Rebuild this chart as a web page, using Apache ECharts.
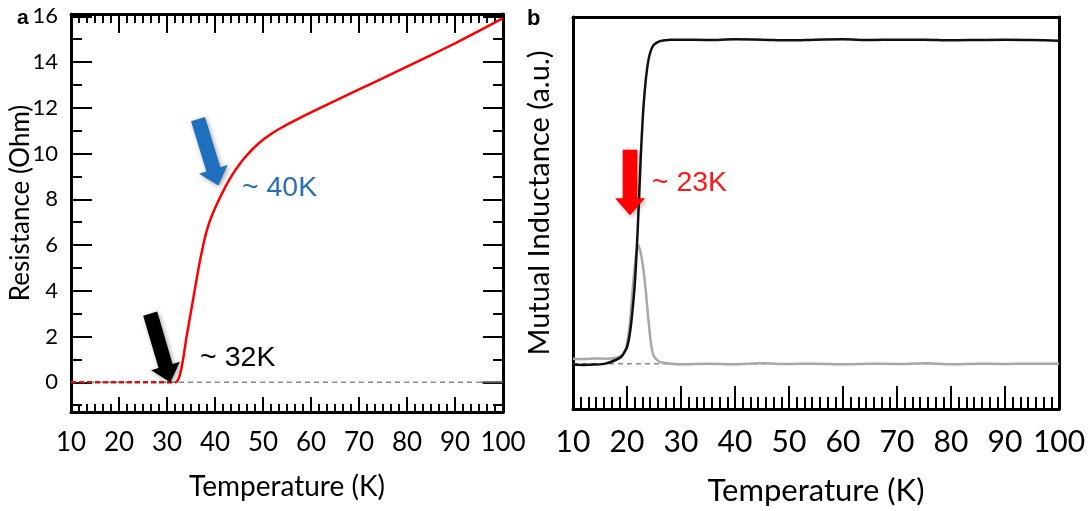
<!DOCTYPE html>
<html>
<head>
<meta charset="utf-8">
<script src="https://cdn.jsdelivr.net/npm/echarts@6/dist/echarts.min.js"></script>
<style>
  html, body { margin: 0; padding: 0; background: #fff; }
  #chart { width: 1089px; height: 511px; }
</style>
</head>
<body>
<div id="chart"></div>
<script>
// Panel a: resistance vs temperature
const resTemp = [10, 15, 20, 25, 30, 31, 32, 32.5, 33, 33.5, 34, 34.5, 35, 35.5, 36, 36.5, 37, 37.5, 38, 38.5, 39, 39.5, 40, 41, 42, 43, 44, 45, 46, 47, 48, 50, 52, 54, 57, 60, 65, 70, 75, 80, 85, 90, 95, 100];
const resOhm  = [0, 0, 0, 0, 0, 0, 0, 0.2, 0.6, 1.2, 1.9, 2.5, 3.1, 3.7, 4.3, 4.9, 5.45, 5.95, 6.4, 6.78, 7.1, 7.37, 7.61, 8.06, 8.48, 8.86, 9.2, 9.5, 9.77, 10.01, 10.23, 10.6, 10.9, 11.15, 11.48, 11.8, 12.3, 12.8, 13.3, 13.8, 14.3, 14.82, 15.36, 15.92];
const resOnset = 32;           // below this the trace sits on zero
const resTailTemp = [95.5, 100];
const resTailOhm  = [0, 0];

// Panel b: mutual inductance (real part, black) and loss (grey)
const miTemp = [10, 12, 14, 16, 18, 19, 19.5, 20, 20.5, 21, 21.5, 22, 22.5, 23, 23.5, 24, 24.5, 25, 26, 27, 28, 30, 35, 40, 45, 50, 55, 60, 65, 70, 75, 80, 85, 90, 95, 100];
const miReal = [-0.003, -0.004, -0.003, 0.0, 0.012, 0.022, 0.035, 0.05, 0.09, 0.16, 0.26, 0.42, 0.62, 0.78, 0.88, 0.94, 0.97, 0.985, 0.995, 0.998, 1.0, 1.0, 0.999, 1.001, 1.0, 0.998, 1.0, 1.001, 0.999, 1.0, 1.0, 0.998, 0.999, 1.0, 0.999, 0.997];
const miLoss = [0.015, 0.014, 0.016, 0.015, 0.018, 0.025, 0.035, 0.06, 0.12, 0.22, 0.31, 0.367, 0.345, 0.296, 0.22, 0.13, 0.055, 0.022, 0.006, 0.002, 0.0, -0.002, 0.0, -0.002, 0.001, -0.001, 0.0, -0.002, 0.0, -0.001, 0.001, -0.002, 0.0, -0.001, 0.0, 0.0];

// Tick labels
const tempTicks = [10, 20, 30, 40, 50, 60, 70, 80, 90, 100];
const resMajorTicks = [0, 2, 4, 6, 8, 10, 12, 14, 16];
const resMinorTicks = [-1, 1, 3, 5, 7, 9, 11, 13, 15];

// Annotations (arrows from tail to tip, and text anchors), in data units
const annotations = [
  { grid: 0, kind: 'arrow', tail: [36.46, 11.5], tip: [40.7, 8.6], color: '#1f6fbf' },
  { grid: 0, kind: 'arrow', tail: [26.5, 3.0], tip: [30.7, 0.0], color: '#000000' },
  { grid: 1, kind: 'arrow', tail: [20.56, 0.66], tip: [20.56, 0.458], color: '#ff0000' },
  { grid: 0, kind: 'text', at: [45.6, 8.5], text: '~ 40K', color: '#2a6fb7' },
  { grid: 0, kind: 'text', at: [36.9, 1.05], text: '~ 32K', color: '#000000' },
  { grid: 1, kind: 'text', at: [24.6, 0.558], text: '~ 23K', color: '#ff1a1a' }
];

const FONT = 'Lato, "Open Sans", sans-serif';
const SANS = '"Liberation Sans", Arial, sans-serif';
const pairs = (xs, ys) => xs.map((x, i) => [x, ys[i]]);
const resPairs = pairs(resTemp, resOhm);

const chart = echarts.init(document.getElementById('chart'), null, { renderer: 'canvas' });

const frameLine = { show: true, onZero: false, lineStyle: { color: '#000', width: 3 } };
const noSplit = { show: false };
const tickStyle = { color: '#000', width: 2 };

const option = {
  animation: false,
  backgroundColor: '#fff',
  grid: [
    { left: 71, top: 14, width: 432, height: 398 },
    { left: 573, top: 17, width: 486, height: 395 }
  ],
  xAxis: [
    { // a: bottom
      gridIndex: 0, type: 'value', position: 'bottom', min: 10, max: 100, interval: 10,
      axisLine: frameLine, splitLine: noSplit,
      axisTick: { inside: true, length: 15, lineStyle: tickStyle },
      minorTick: { show: true, splitNumber: 6, length: 8, lineStyle: tickStyle },
      axisLabel: { color: '#000', fontSize: 26, fontFamily: FONT, margin: 18, customValues: tempTicks },
      name: 'Temperature (K)', nameLocation: 'middle', nameGap: 61, nameMoveOverlap: false,
      nameTextStyle: { color: '#000', fontSize: 28, fontFamily: FONT }
    },
    { // a: top
      gridIndex: 0, type: 'value', position: 'top', min: 10, max: 100, interval: 10,
      axisLine: frameLine, splitLine: noSplit,
      axisTick: { inside: true, length: 19, lineStyle: tickStyle },
      minorTick: { show: true, splitNumber: 6, length: 9, lineStyle: tickStyle },
      axisLabel: { show: false }
    },
    { // b: bottom
      gridIndex: 1, type: 'value', position: 'bottom', min: 10, max: 100, interval: 10,
      axisLine: frameLine, splitLine: noSplit,
      axisTick: { inside: true, length: 23, lineStyle: tickStyle },
      minorTick: { show: true, splitNumber: 7, length: 12, lineStyle: tickStyle },
      axisLabel: { color: '#000', fontSize: 30, fontFamily: FONT, margin: 18, customValues: tempTicks },
      name: 'Temperature (K)', nameLocation: 'middle', nameGap: 66, nameMoveOverlap: false,
      nameTextStyle: { color: '#000', fontSize: 31, fontFamily: FONT }
    },
    { // b: top
      gridIndex: 1, type: 'value', position: 'top', min: 10, max: 100,
      axisLine: frameLine, splitLine: noSplit, axisTick: { show: false }, axisLabel: { show: false }
    }
  ],
  yAxis: [
    { // a: left, major
      gridIndex: 0, type: 'value', position: 'left', min: -1.3, max: 16.1,
      axisLine: frameLine, splitLine: noSplit,
      axisTick: { inside: true, length: 21, customValues: resMajorTicks, lineStyle: tickStyle },
      axisLabel: { color: '#000', fontSize: 22, fontFamily: FONT, margin: 13, customValues: resMajorTicks },
      name: 'Resistance (Ohm)', nameLocation: 'middle', nameGap: 37, nameMoveOverlap: false,
      nameTextStyle: { color: '#000', fontSize: 26, fontFamily: FONT, padding: [0, 0, 0, 20] }
    },
    { // a: left, minor
      gridIndex: 0, type: 'value', position: 'left', min: -1.3, max: 16.1,
      axisLine: { show: false }, splitLine: noSplit, axisLabel: { show: false },
      axisTick: { show: true, inside: true, length: 11, customValues: resMinorTicks, lineStyle: tickStyle }
    },
    { // a: right, major
      gridIndex: 0, type: 'value', position: 'right', min: -1.3, max: 16.1,
      axisLine: frameLine, splitLine: noSplit, axisLabel: { show: false },
      axisTick: { show: true, inside: true, length: 20, customValues: resMajorTicks, lineStyle: tickStyle }
    },
    { // a: right, minor
      gridIndex: 0, type: 'value', position: 'right', min: -1.3, max: 16.1,
      axisLine: { show: false }, splitLine: noSplit, axisLabel: { show: false },
      axisTick: { show: true, inside: true, length: 10, customValues: resMinorTicks, lineStyle: tickStyle }
    },
    { // b: left
      gridIndex: 1, type: 'value', position: 'left', min: -0.14, max: 1.07,
      axisLine: frameLine, splitLine: noSplit, axisTick: { show: false }, axisLabel: { show: false },
      name: 'Mutual Inductance (a.u.)', nameLocation: 'middle', nameGap: 19, nameMoveOverlap: false,
      nameTextStyle: { color: '#000', fontSize: 29, fontFamily: FONT, padding: [0, 0, 0, 20] }
    },
    { // b: right
      gridIndex: 1, type: 'value', position: 'right', min: -0.14, max: 1.07,
      axisLine: frameLine, splitLine: noSplit, axisTick: { show: false }, axisLabel: { show: false }
    }
  ],
  series: [
    { // zero reference, panel a
      type: 'line', xAxisIndex: 0, yAxisIndex: 0, symbol: 'none', silent: true,
      data: [[10, 0], [100, 0]],
      lineStyle: { color: '#8a8a8a', width: 1.5, type: [5, 4] }, z: 2
    },
    { // noisy zero-resistance part
      type: 'line', xAxisIndex: 0, yAxisIndex: 0, symbol: 'none',
      data: resPairs.filter(p => p[0] <= resOnset),
      lineStyle: { color: '#e01010', width: 2.5, type: [5, 3] }, z: 3
    },
    { // resistive transition and normal state
      type: 'line', xAxisIndex: 0, yAxisIndex: 0, symbol: 'none', smooth: 0.2,
      data: resPairs.filter(p => p[0] >= resOnset),
      lineStyle: { color: '#ff0000', width: 2.5 }, z: 4
    },
    {
      type: 'line', xAxisIndex: 0, yAxisIndex: 0, symbol: 'none',
      data: pairs(resTailTemp, resTailOhm),
      lineStyle: { color: '#555', width: 2 }, z: 3
    },
    { // zero reference, panel b
      type: 'line', xAxisIndex: 2, yAxisIndex: 4, symbol: 'none', silent: true,
      data: [[10, 0], [100, 0]],
      lineStyle: { color: '#8a8a8a', width: 1.5, type: [5, 4] }, z: 2
    },
    {
      type: 'line', xAxisIndex: 2, yAxisIndex: 4, symbol: 'none', smooth: 0.3,
      data: pairs(miTemp, miLoss),
      lineStyle: { color: '#a8a8a8', width: 2.5 }, z: 3
    },
    {
      type: 'line', xAxisIndex: 2, yAxisIndex: 4, symbol: 'none', smooth: 0.3,
      data: pairs(miTemp, miReal),
      lineStyle: { color: '#111', width: 2.5 }, z: 4
    }
  ]
};

chart.setOption(option);

// Block arrow polygon from tail to tip, in pixels
function arrowPoints(p0, p1, shaftHalf, headHalf, headLen) {
  const dx = p1[0] - p0[0], dy = p1[1] - p0[1];
  const len = Math.hypot(dx, dy);
  const ux = dx / len, uy = dy / len;
  const nx = -uy, ny = ux;
  const bx = p1[0] - ux * headLen, by = p1[1] - uy * headLen;
  return [
    [p0[0] + nx * shaftHalf, p0[1] + ny * shaftHalf],
    [bx + nx * shaftHalf, by + ny * shaftHalf],
    [bx + nx * headHalf, by + ny * headHalf],
    [p1[0], p1[1]],
    [bx - nx * headHalf, by - ny * headHalf],
    [bx - nx * shaftHalf, by - ny * shaftHalf],
    [p0[0] - nx * shaftHalf, p0[1] - ny * shaftHalf]
  ];
}

const graphics = [
  { type: 'text', x: 17, y: 18, style: { text: 'a', fontSize: 21, fontWeight: 'bold', fontFamily: SANS, fill: '#000', verticalAlign: 'middle', textVerticalAlign: 'middle' } },
  { type: 'text', x: 527, y: 19, style: { text: 'b', fontSize: 22, fontWeight: 'bold', fontFamily: SANS, fill: '#000', verticalAlign: 'middle', textVerticalAlign: 'middle' } }
];

annotations.forEach(a => {
  const finder = { gridIndex: a.grid };
  if (a.kind === 'arrow') {
    const p0 = chart.convertToPixel(finder, a.tail);
    const p1 = chart.convertToPixel(finder, a.tip);
    graphics.push({
      type: 'polygon', z: 10,
      shape: { points: arrowPoints(p0, p1, 7.3, 15, 17) },
      style: { fill: a.color, shadowBlur: 5, shadowColor: 'rgba(0,0,0,0.35)', shadowOffsetX: 1.5, shadowOffsetY: 1.5 }
    });
  } else {
    const p = chart.convertToPixel(finder, a.at);
    graphics.push({
      type: 'text', z: 10, x: p[0], y: p[1],
      style: { text: a.text, fill: a.color, fontSize: 28.5, fontFamily: SANS,
        textAlign: 'left', textVerticalAlign: 'middle', verticalAlign: 'middle' }
    });
  }
});

chart.setOption({ graphic: graphics });
</script>
</body>
</html>
